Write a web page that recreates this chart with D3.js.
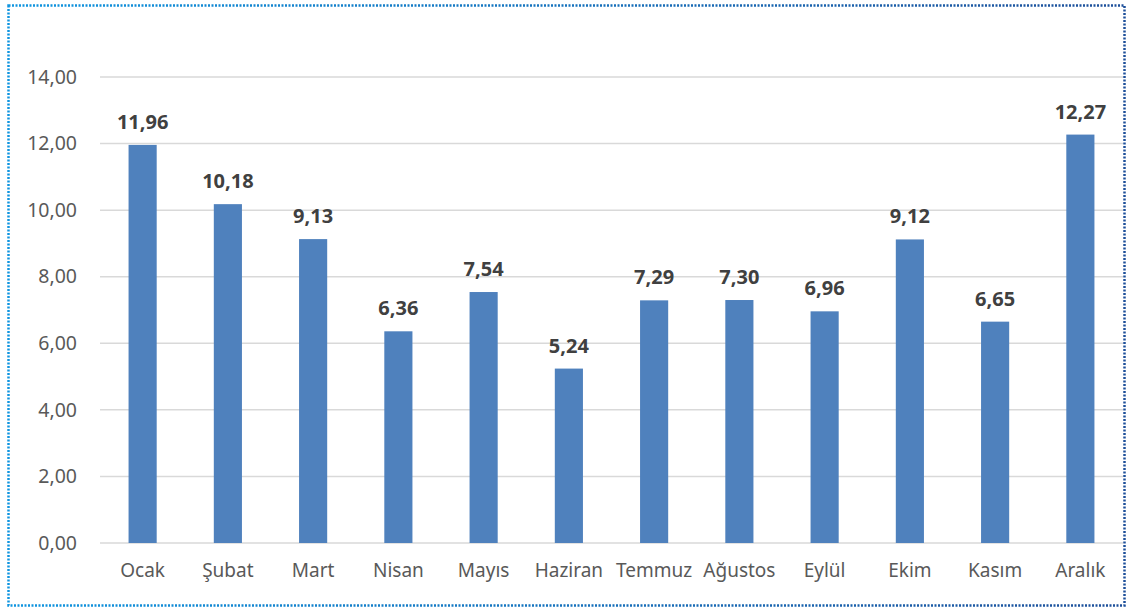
<!DOCTYPE html>
<html>
<head>
<meta charset="utf-8">
<script src="https://cdn.jsdelivr.net/npm/d3@7"></script>
<style>
  body { margin: 0; background: #fff; }
  svg { display: block; }
</style>
</head>
<body>
<svg id="chart" width="1131" height="608"></svg>
<script>
var months = ["Ocak", "Şubat", "Mart", "Nisan", "Mayıs", "Haziran", "Temmuz", "Ağustos", "Eylül", "Ekim", "Kasım", "Aralık"];
var values = [11.96, 10.18, 9.13, 6.36, 7.54, 5.24, 7.29, 7.30, 6.96, 9.12, 6.65, 12.27];
var yTicks = [0, 2, 4, 6, 8, 10, 12, 14];

var svg = d3.select("#chart"),
  font = "'Noto Sans', 'Open Sans', sans-serif";

var fmt = function (v) { return v.toFixed(2).replace(".", ","); };

// dotted frame
var defs = svg.append("defs");
var grad = defs.append("linearGradient")
  .attr("id", "frameGrad")
  .attr("gradientUnits", "userSpaceOnUse")
  .attr("x1", 8).attr("x2", 1124).attr("y1", 0).attr("y2", 0);
grad.append("stop").attr("offset", "0%").attr("stop-color", "#0f95e0");
grad.append("stop").attr("offset", "100%").attr("stop-color", "#1d4f9a");

svg.append("rect")
  .attr("x", 8.5).attr("y", 5.5)
  .attr("width", 1116).attr("height", 600)
  .attr("fill", "none")
  .attr("stroke", "url(#frameGrad)")
  .attr("stroke-width", 2.5)
  .attr("stroke-dasharray", "2,1.5");

var x = d3.scaleBand()
  .domain(months)
  .range([100, 1123])
  .paddingInner(0.67)
  .paddingOuter(0.335);

var y = d3.scaleLinear()
  .domain([0, 14])
  .range([543, 77]);

// gridlines
svg.append("g")
  .selectAll("line")
  .data(yTicks)
  .enter().append("line")
    .attr("x1", 100)
    .attr("x2", 1123)
    .attr("y1", function (d) { return y(d); })
    .attr("y2", function (d) { return y(d); })
    .attr("stroke", "#d9d9d9")
    .attr("stroke-width", 1.5);

// y axis labels
var yAxis = svg.append("g")
  .attr("transform", "translate(100,0)")
  .call(d3.axisLeft(y).tickValues(yTicks).tickSize(0).tickPadding(23).tickFormat(fmt));
yAxis.select(".domain").remove();
yAxis.selectAll("text")
  .attr("font-family", font)
  .attr("font-size", 19.5)
  .attr("fill", "#595959");

// bars
svg.append("g")
  .selectAll("rect")
  .data(values)
  .enter().append("rect")
    .attr("x", function (d, i) { return x(months[i]); })
    .attr("y", function (d) { return y(d); })
    .attr("width", x.bandwidth())
    .attr("height", function (d) { return y(0) - y(d); })
    .attr("fill", "#4f81bd");

// value labels
svg.append("g")
  .selectAll("text")
  .data(values)
  .enter().append("text")
    .attr("x", function (d, i) { return x(months[i]) + x.bandwidth() / 2; })
    .attr("y", function (d) { return y(d) - 16; })
    .attr("text-anchor", "middle")
    .attr("font-family", font)
    .attr("font-weight", "bold")
    .attr("font-size", 20)
    .attr("fill", "#404040")
    .text(fmt);

// x axis labels
var xAxis = svg.append("g")
  .attr("transform", "translate(0,543)")
  .call(d3.axisBottom(x).tickSize(0).tickPadding(21));
xAxis.select(".domain").remove();
xAxis.selectAll("text")
  .attr("font-family", font)
  .attr("font-size", 19)
  .attr("fill", "#595959");
</script>
</body>
</html>
